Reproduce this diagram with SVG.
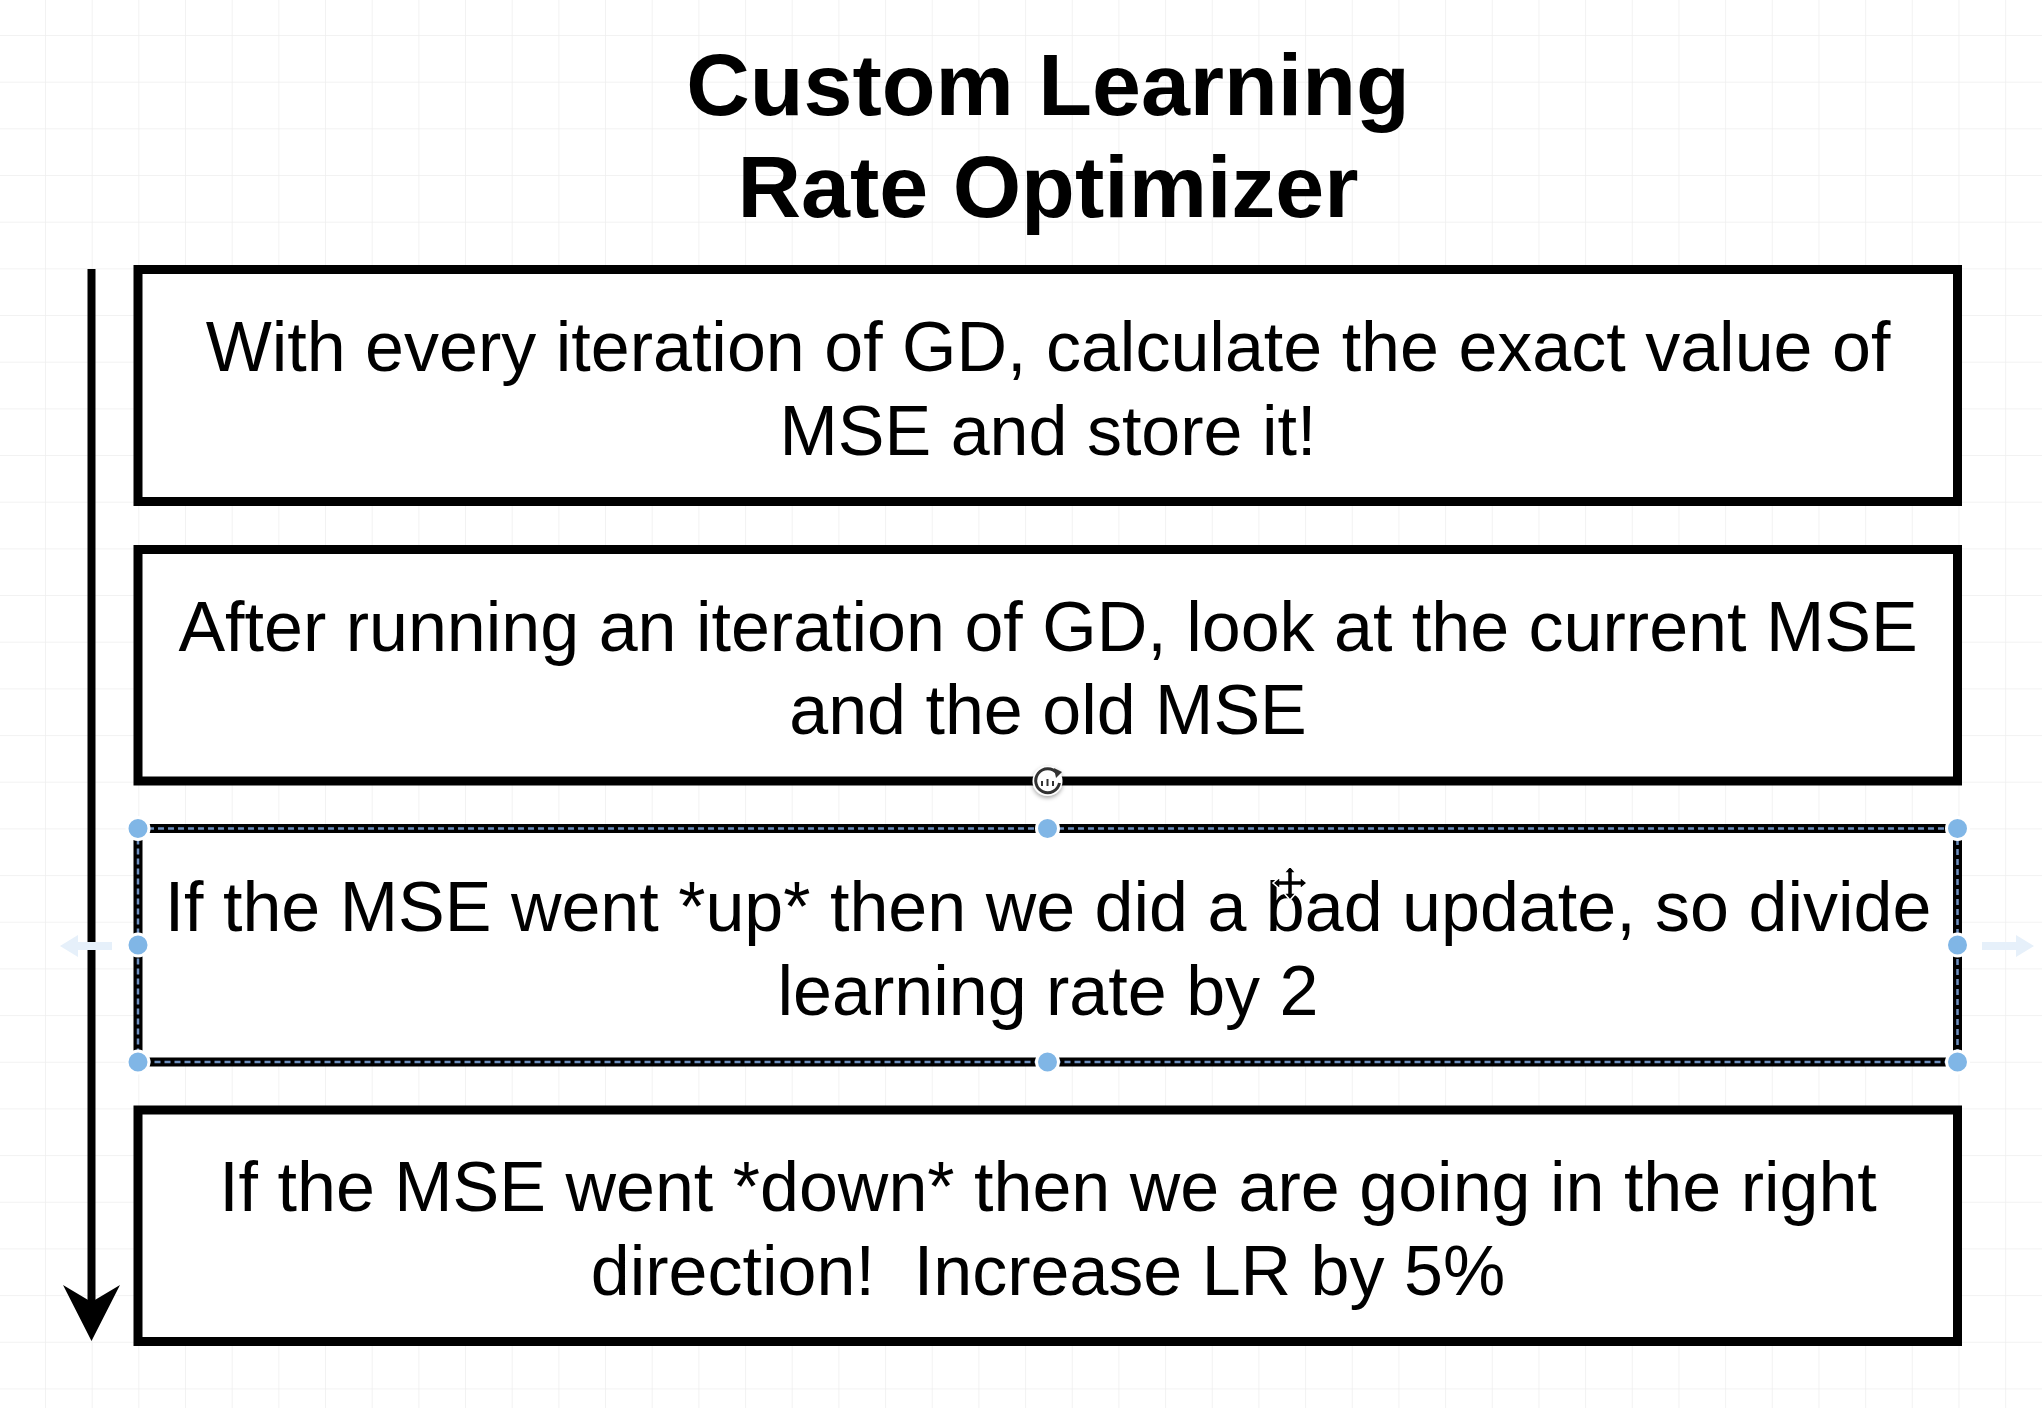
<svg xmlns="http://www.w3.org/2000/svg" width="2042" height="1408" viewBox="0 0 2042 1408">
  <defs>
    <pattern id="grid" x="45" y="35" width="46.67" height="46.67" patternUnits="userSpaceOnUse">
      <path d="M 46.67 0 L 0 0 0 46.67" fill="none" stroke="#eeeeee" stroke-width="1.5"/>
    </pattern>
    <marker id="arrowhead" viewBox="-20 -30 60 60" markerWidth="60" markerHeight="60" refX="0" refY="0" orient="auto" markerUnits="userSpaceOnUse">
      <path d="M -17,-28.5 L 39,0 L -17,28.5 L 0,0 Z" fill="#000000"/>
    </marker>
    <filter id="shadow" x="-50%" y="-50%" width="200%" height="200%">
      <feDropShadow dx="0" dy="2" stdDeviation="2" flood-color="#000000" flood-opacity="0.35"/>
    </filter>
  </defs>
  <style>
    .box { fill: #ffffff; stroke: #000000; stroke-width: 9; }
    .sel { fill: none; stroke: #6d8fbf; stroke-width: 2.5; stroke-dasharray: 6 4; }
    .txt { font-family: "Liberation Sans", Arial, Helvetica, sans-serif; font-size: 70px; fill: #000000; text-anchor: middle; white-space: pre; }
    .title { font-family: "Liberation Sans", Arial, Helvetica, sans-serif; font-size: 88px; font-weight: bold; fill: #000000; text-anchor: middle; }
    .handle { fill: #80b6e6; stroke: #ffffff; stroke-width: 3; }
    .hover { fill: #e6f0fa; }
  </style>

  <rect x="0" y="0" width="2042" height="1408" fill="#ffffff"/>
  <rect x="0" y="0" width="2042" height="1408" fill="url(#grid)"/>

  <g id="title">
    <text class="title" x="1048" y="115">Custom Learning</text>
    <text class="title" x="1048" y="217">Rate Optimizer</text>
  </g>

  <g id="connectors">
    <line x1="91.5" y1="269" x2="91.5" y2="1302" stroke="#000000" stroke-width="8" marker-end="url(#arrowhead)"/>
  </g>

  <g id="node1">
    <rect class="box" x="138" y="269.5" width="1819.5" height="232"/>
    <text class="txt" x="1048" y="371">With every iteration of GD, calculate the exact value of</text>
    <text class="txt" x="1048" y="455">MSE and store it!</text>
  </g>

  <g id="node2">
    <rect class="box" x="138" y="549.5" width="1819.5" height="231.5"/>
    <text class="txt" x="1048" y="651">After running an iteration of GD, look at the current MSE</text>
    <text class="txt" x="1048" y="734">and the old MSE</text>
  </g>

  <g id="node3">
    <rect class="box" x="138" y="828.5" width="1819.5" height="233.5" stroke-width="8"/>
    <rect class="sel" x="138" y="828.5" width="1819.5" height="233.5"/>
    <text class="txt" x="1048" y="931">If the MSE went *up* then we did a bad update, so divide</text>
    <text class="txt" x="1048" y="1015">learning rate by 2</text>
  </g>

  <g id="node4">
    <rect class="box" x="138" y="1110" width="1819.5" height="231.5"/>
    <text class="txt" x="1048" y="1211">If the MSE went *down* then we are going in the right</text>
    <text class="txt" x="1048" y="1295">direction!  Increase LR by 5%</text>
  </g>

  <g id="selection-handles">
    <circle class="handle" cx="138" cy="828.5" r="11"/>
    <circle class="handle" cx="1047.5" cy="828.5" r="11"/>
    <circle class="handle" cx="1957.5" cy="828.5" r="11"/>
    <circle class="handle" cx="138" cy="945" r="11"/>
    <circle class="handle" cx="1957.5" cy="945" r="11"/>
    <circle class="handle" cx="138" cy="1062" r="11"/>
    <circle class="handle" cx="1047.5" cy="1062" r="11"/>
    <circle class="handle" cx="1957.5" cy="1062" r="11"/>
    <path class="hover" d="M 60,946 L 78,935 L 78,942 L 112,942 L 112,950 L 78,950 L 78,957 Z"/>
    <path class="hover" d="M 2034,946 L 2016,935 L 2016,942 L 1982,942 L 1982,950 L 2016,950 L 2016,957 Z"/>
  </g>

  <g id="rotate-handle" filter="url(#shadow)">
    <circle cx="1047.5" cy="781" r="15" fill="#ffffff"/>
    <path d="M 1057,773 A 12 12 0 1 0 1059.5,783" fill="none" stroke="#333333" stroke-width="3"/>
    <path d="M 1054,768 L 1062,772 L 1056,778 Z" fill="#333333"/>
    <path d="M 1042,786 L 1042,781 M 1047.5,786 L 1047.5,779 M 1053,786 L 1053,781" stroke="#333333" stroke-width="2"/>
  </g>

  <g id="move-cursor">
    <path d="M 1290,866 L 1296,873 L 1292.5,873 L 1292.5,880.5 L 1300,880.5 L 1300,877 L 1307,883 L 1300,889 L 1300,885.5 L 1292.5,885.5 L 1292.5,893 L 1296,893 L 1290,900 L 1284,893 L 1287.5,893 L 1287.5,885.5 L 1280,885.5 L 1280,889 L 1273,883 L 1280,877 L 1280,880.5 L 1287.5,880.5 L 1287.5,873 L 1284,873 Z" fill="#000000" stroke="#ffffff" stroke-width="1.5"/>
  </g>
</svg>
